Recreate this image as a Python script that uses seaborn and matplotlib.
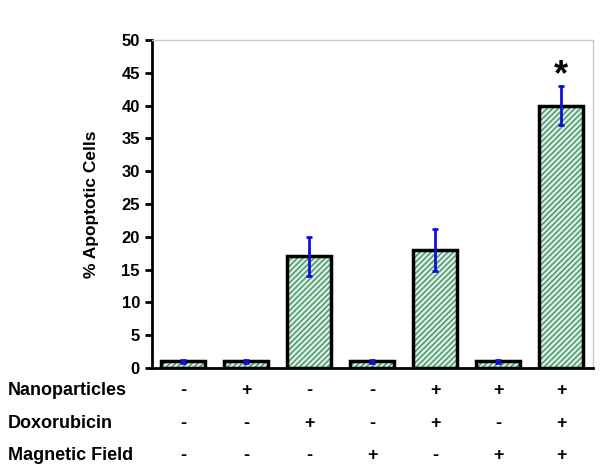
import matplotlib
matplotlib.use("Agg")
import matplotlib.pyplot as plt
import matplotlib.transforms as mtransforms
import pandas as pd
import seaborn as sns

sns.set_theme(style="white")
plt.rcParams["font.family"] = ["Liberation Sans", "DejaVu Sans"]
plt.rcParams["hatch.linewidth"] = 1.0
plt.rcParams["text.color"] = "black"
plt.rcParams["axes.labelcolor"] = "black"
plt.rcParams["ytick.color"] = "black"

groups = ["G1", "G2", "G3", "G4", "G5", "G6", "G7"]
apoptotic = [1, 1, 17, 1, 18, 1, 40]
errors = [0.2, 0.2, 3, 0.2, 3.2, 0.2, 3]
nanoparticles = ["-", "+", "-", "-", "+", "+", "+"]
doxorubicin = ["-", "-", "+", "-", "+", "-", "+"]
magnetic = ["-", "-", "-", "+", "-", "+", "+"]
row_labels = ["Nanoparticles", "Doxorubicin", "Magnetic Field"]

df = pd.DataFrame({"group": groups, "value": apoptotic})

fig = plt.figure(figsize=(6, 4.76), dpi=100)
ax = fig.add_axes([0.253, 0.227, 0.735, 0.689])

# hatched fill
sns.barplot(data=df, x="group", y="value", ax=ax, color="#d8efe0",
            width=0.7, edgecolor="#3f9463", linewidth=0, hatch="//////")
# black outline
sns.barplot(data=df, x="group", y="value", ax=ax, fill=False,
            width=0.7, edgecolor="black", linewidth=2.5)

xs = range(len(groups))
ax.errorbar(xs, apoptotic, yerr=errors, fmt="none", ecolor="#1010d0",
            elinewidth=2, capsize=2, capthick=2)

ax.text(6, 44.6, "*", ha="center", va="center", fontsize=26,
        fontweight="bold")

ax.set_ylim(0, 50)
ax.set_xlim(-0.5, 6.5)
ax.set_yticks(range(0, 51, 5))
ax.set_ylabel("% Apoptotic Cells", fontsize=12.5, fontweight="bold", labelpad=16)
ax.set_xlabel("")
ax.set_xticks([])
for lab in ax.get_yticklabels():
    lab.set_fontweight("bold")
ax.tick_params(axis="y", direction="out", length=5, width=2, labelsize=12,
               left=True, color="black")

for side in ["left", "bottom"]:
    ax.spines[side].set_color("black")
    ax.spines[side].set_linewidth(2)
for side in ["top", "right"]:
    ax.spines[side].set_color("#c8c8c8")
    ax.spines[side].set_linewidth(1)

# condition table under the bars
rows = [nanoparticles, doxorubicin, magnetic]
row_y = [-3.4, -8.4, -13.3]
trans = mtransforms.blended_transform_factory(fig.transFigure, ax.transData)
for label, signs, y in zip(row_labels, rows, row_y):
    ax.text(0.013, y, label, transform=trans, ha="left", va="center",
            fontsize=13, fontweight="bold", clip_on=False)
    for x, s in zip(xs, signs):
        ax.text(x, y, s, ha="center", va="center", fontsize=13,
                fontweight="bold", clip_on=False)

fig.savefig("out.png", dpi=100)
